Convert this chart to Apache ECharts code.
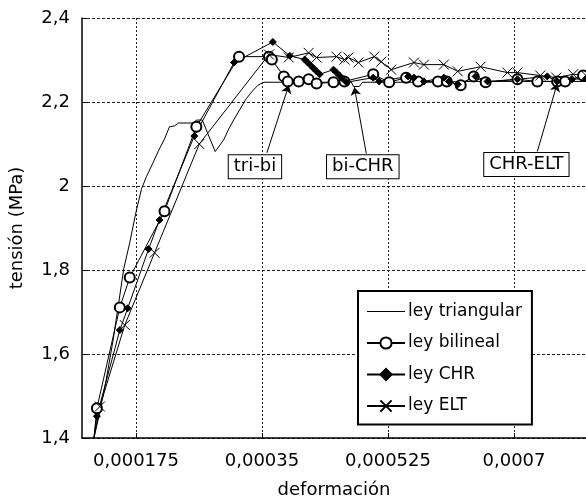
<!DOCTYPE html>
<html>
<head>
<meta charset="utf-8">
<script src="https://cdn.jsdelivr.net/npm/echarts@6/dist/echarts.min.js"></script>
<style>html,body{margin:0;padding:0;background:#fff}#c{width:586px;height:504px}</style>
</head>
<body>
<div id="c"></div>
<script>
const seriesNames = ['ley triangular', 'ley bilineal', 'ley CHR', 'ley ELT'];
const xTicks = [0.000175, 0.00035, 0.000525, 0.0007];
const yTicks = [1.4, 1.6, 1.8, 2.0, 2.2, 2.4];

const triangular = [
[0.0001166,1.400],[0.0001235,1.452],[0.0001331,1.534],[0.0001428,1.629],[0.0001511,1.723],
[0.0001580,1.803],[0.0001663,1.865],[0.0001746,1.935],[0.0001828,1.994],[0.0001897,2.023],
[0.0001980,2.053],[0.0002063,2.084],[0.0002146,2.112],[0.0002215,2.141],[0.0002284,2.143],
[0.0002339,2.150],[0.0002560,2.150],[0.0002588,2.157],[0.0002671,2.157],[0.0002850,2.082],
[0.0002919,2.098],[0.0002974,2.112],[0.0003030,2.133],[0.0003112,2.159],[0.0003195,2.183],
[0.0003278,2.207],[0.0003361,2.225],[0.0003444,2.240],[0.0003527,2.247],[0.0004742,2.247],
[0.0004769,2.237],[0.0004852,2.237],[0.0004894,2.247],[0.0005846,2.247],[0.0006398,2.249],
[0.0007227,2.249],[0.0008000,2.249]
];
const bilineal = [
[0.0001166,1.400],[0.0001207,1.471],[0.0001525,1.711],[0.0001663,1.782],[0.0002146,1.940],
[0.0002588,2.141],[0.0003181,2.308],[0.0003596,2.308],[0.0003637,2.301],[0.0003803,2.261],
[0.0003858,2.249],[0.0004010,2.249],[0.0004148,2.254],[0.0004258,2.244],[0.0004493,2.247],
[0.0004645,2.249],[0.0005045,2.266],[0.0005266,2.247],[0.0005501,2.258],[0.0005667,2.249],
[0.0005943,2.249],[0.0006067,2.249],[0.0006260,2.240],[0.0006440,2.261],[0.0006606,2.247],
[0.0007048,2.254],[0.0007324,2.249],[0.0007600,2.249],[0.0007710,2.249],[0.0007959,2.263]
];
const chr = [
[0.0001166,1.400],[0.0001207,1.452],[0.0001525,1.657],[0.0001635,1.709],[0.0001925,1.850],
[0.0002077,1.919],[0.0002560,2.119],[0.0003112,2.294],[0.0003651,2.343],[0.0003886,2.310],
[0.0004093,2.301],[0.0004134,2.294],[0.0004176,2.287],[0.0004217,2.280],[0.0004258,2.273],
[0.0004300,2.266],[0.0004493,2.277],[0.0004535,2.270],[0.0004576,2.263],[0.0004618,2.256],
[0.0004673,2.247],[0.0005045,2.258],[0.0005128,2.249],[0.0005529,2.261],[0.0005611,2.258],
[0.0005749,2.249],[0.0006026,2.258],[0.0006095,2.249],[0.0006219,2.242],[0.0006467,2.261],
[0.0006633,2.249],[0.0007048,2.254],[0.0007462,2.261],[0.0007600,2.249],[0.0007807,2.254],
[0.0008000,2.256]
];
const elt = [
[0.0001166,1.400],[0.0001249,1.475],[0.0001594,1.669],[0.0002008,1.841],[0.0002629,2.100],
[0.0003596,2.313],[0.0003872,2.306],[0.0004148,2.317],[0.0004258,2.306],[0.0004535,2.308],
[0.0004645,2.301],[0.0004700,2.306],[0.0004838,2.294],[0.0005059,2.308],[0.0005156,2.296],
[0.0005294,2.277],[0.0005611,2.294],[0.0005749,2.289],[0.0006026,2.289],[0.0006219,2.273],
[0.0006536,2.284],[0.0006909,2.270],[0.0007048,2.270],[0.0007365,2.263],[0.0007586,2.258],
[0.0007821,2.266],[0.0008000,2.263]
];

// annotations: label, box centre, arrow tail, arrow tip (data units)
const annoText = ['tri-bi', 'bi-CHR', 'CHR-ELT'];
const annoBox  = [[0.0003402,2.046],[0.0004900,2.046],[0.0007172,2.051]];
const annoTail = [[0.0003568,2.079],[0.0004949,2.077],[0.0007324,2.082]];
const annoTip  = [[0.0003872,2.240],[0.0004783,2.235],[0.0007600,2.244]];

const FONT = 'DejaVu Sans';
const crossPath = 'path://M0,0L10,10M10,0L0,10';
const lineIcon = 'path://M0,0L38,0L38,1.2L0,1.2Z';

function withStart(arr){
  return arr.map((p,i)=> i===0 ? {value:p, symbol:'none'} : p);
}
function fmtX(v){
  let s = v.toFixed(6).replace(/0+$/,'').replace(/\.$/,'');
  return s.replace('.', ',');
}
function fmtY(v){
  return String(parseFloat(v.toFixed(1))).replace('.', ',');
}

const lineBase = {type:'line', smooth:false, animation:false, lineStyle:{color:'#000', width:1}, z:3};

const chart = echarts.init(document.getElementById('c'), null, {renderer:'canvas'});
chart.setOption({
  animation:false,
  backgroundColor:'#fff',
  color:['#000','#000','#000','#000'],
  grid:{left:79, top:18, right:0, bottom:62, containLabel:false},
  xAxis:{
    type:'value', min:0.0001, max:0.0008,
    name:'deformación', nameLocation:'middle', nameGap:43,
    nameTextStyle:{fontFamily:FONT, fontSize:18, color:'#000'},
    axisLine:{show:true, lineStyle:{color:'#000', width:1.5}},
    axisTick:{show:true, inside:true, length:5, customValues:xTicks, lineStyle:{color:'#000'}},
    axisLabel:{customValues:xTicks, formatter:fmtX, fontFamily:FONT, fontSize:18, color:'#000', margin:14},
    splitLine:{show:true, lineStyle:{color:'#222', type:[2,2], width:1}}
  },
  yAxis:{
    type:'value', min:1.4, max:2.4, interval:0.2,
    name:'tensión (MPa)', nameLocation:'middle', nameGap:56, nameRotate:90,
    nameTextStyle:{fontFamily:FONT, fontSize:18, color:'#000'},
    axisLine:{show:true, lineStyle:{color:'#000', width:1.5}},
    axisTick:{show:true, inside:true, length:5, lineStyle:{color:'#000'}},
    axisLabel:{formatter:fmtY, fontFamily:FONT, fontSize:18, color:'#000', margin:12},
    splitLine:{show:true, lineStyle:{color:'#222', type:[3,2], width:1}}
  },
  legend:{
    orient:'vertical', left:358, top:291,
    width:173, itemWidth:38, itemHeight:14, itemGap:14.5,
    padding:[12,10,10,8],
    backgroundColor:'#fff', borderColor:'#000', borderWidth:2,
    textStyle:{fontFamily:FONT, fontSize:17, color:'#000', padding:[0,0,0,-2]},
    data:[
      {name:seriesNames[0], icon:lineIcon, itemStyle:{color:'#000', borderWidth:0}},
      {name:seriesNames[1]},
      {name:seriesNames[2]},
      {name:seriesNames[3]}
    ]
  },
  series:[
    Object.assign({}, lineBase, {
      name:seriesNames[0], data:triangular, symbol:'none', showSymbol:false,
      itemStyle:{color:'#000'},
      markLine:{
        silent:true, animation:false, symbol:['none','arrow'], symbolSize:[8,8],
        lineStyle:{color:'#000', width:1, type:'solid'}, label:{show:false},
        data: annoTail.map((t,i)=>[{coord:t},{coord:annoTip[i]}])
      },
      markPoint:{
        silent:true, animation:false, symbol:'rect', symbolSize:1,
        itemStyle:{color:'transparent'},
        label:{show:true, position:'inside', fontFamily:FONT, fontSize:18, color:'#000',
          backgroundColor:'#fff', borderColor:'#000', borderWidth:1, padding:[3,5,2,5]},
        data: annoBox.map((b,i)=>({coord:b, value:annoText[i], label:{formatter:annoText[i]}}))
      }
    }),
    Object.assign({}, lineBase, {
      name:seriesNames[1], data:withStart(bilineal), symbol:'emptyCircle', symbolSize:10,
      itemStyle:{color:'#000', borderColor:'#000', borderWidth:1}
    }),
    Object.assign({}, lineBase, {
      name:seriesNames[2], data:withStart(chr), symbol:'diamond', symbolSize:7,
      itemStyle:{color:'#000', borderColor:'#000', borderWidth:1}
    }),
    Object.assign({}, lineBase, {
      name:seriesNames[3], data:withStart(elt), symbol:crossPath, symbolSize:10,
      itemStyle:{color:'#000', borderColor:'#000', borderWidth:1}
    })
  ]
});
</script>
</body>
</html>
